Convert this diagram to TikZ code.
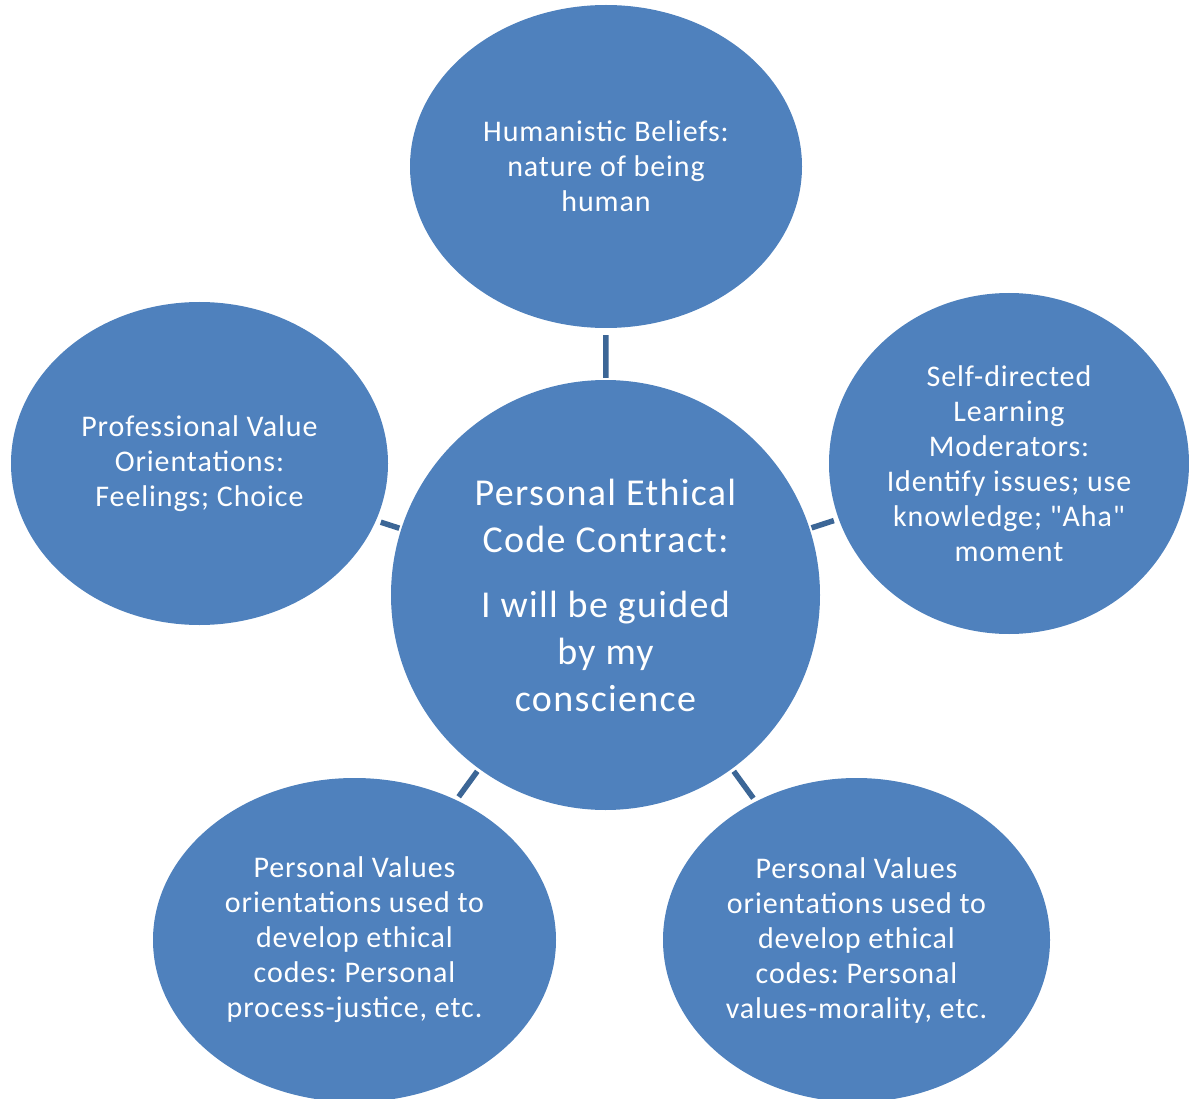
\documentclass[tikz,border=0pt]{standalone}
\usepackage{fontspec}
\setmainfont{Carlito}[Ligatures=TeXOff]
\frenchspacing
\usetikzlibrary{shapes.geometric}
\definecolor{bub}{HTML}{4F81BD}
\definecolor{lnk}{HTML}{3C6696}
\tikzset{
  bubble/.style={ellipse, fill=bub, draw=none, text=white, align=center, inner sep=0pt,
    font=\fontsize{30}{35}\selectfont\addfontfeature{LetterSpace=3}},
  link/.style={draw=lnk, line width=5.5pt, shorten <=3pt, shorten >=4pt}
}
\begin{document}
\begin{tikzpicture}[x=1pt,y=-1pt]
\useasboundingbox (0,0) rectangle (1189,1099);
\node[bubble, minimum width=429pt, minimum height=430pt, font=\fontsize{38}{47}\selectfont\addfontfeature{LetterSpace=3.5}] (c) at (605.5,595)
  {Personal Ethical\\Code Contract:\\[18pt]I will be guided\\by my\\conscience};
\node[bubble, minimum width=392pt, minimum height=323pt] (t) at (606,166.5)
  {Humanistic Beliefs:\\nature of being\\human};
\node[bubble, minimum width=377pt, minimum height=323pt] (l) at (199.5,463.5)
  {Professional Value\\Orientations:\\Feelings; Choice};
\node[bubble, minimum width=360pt, minimum height=341pt] (r) at (1009,463.5)
  {Self-directed\\Learning\\Moderators:\\Identify issues; use\\knowledge; "Aha"\\moment};
\node[bubble, minimum width=403pt, minimum height=324pt] (bl) at (354.5,940)
  {Personal Values\\orientations used to\\develop ethical\\codes: Personal\\process-justice, etc.};
\node[bubble, minimum width=387pt, minimum height=324pt] (br) at (856.5,940)
  {Personal Values\\orientations used to\\develop ethical\\codes: Personal\\values-morality, etc.};
\draw[link, shorten <=2pt, shorten >=7pt] (c) -- (t);
\draw[link, shorten <=2pt, shorten >=5pt] (c) -- (l);
\draw[link, shorten <=2pt, shorten >=5pt] (c) -- (r);
\draw[link] (c) -- (bl);
\draw[link] (c) -- (br);
\end{tikzpicture}
\end{document}
